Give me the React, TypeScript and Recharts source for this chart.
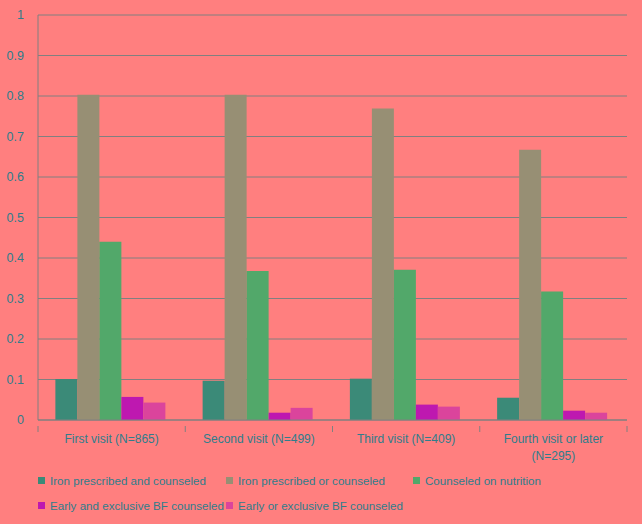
import React from 'react';
import { BarChart, Bar, XAxis, YAxis, CartesianGrid } from 'recharts';

const categories = ['First visit (N=865)', 'Second visit (N=499)', 'Third visit (N=409)', 'Fourth visit or later\n(N=295)'];
const ironAnd = [0.101, 0.097, 0.102, 0.055];
const ironOr = [0.803, 0.803, 0.769, 0.667];
const nutrition = [0.44, 0.368, 0.371, 0.317];
const bfAnd = [0.057, 0.018, 0.038, 0.023];
const bfOr = [0.043, 0.030, 0.033, 0.018];
const yTicks = [0, 0.1, 0.2, 0.3, 0.4, 0.5, 0.6, 0.7, 0.8, 0.9, 1];

const seriesNames = [
  'Iron prescribed and counseled',
  'Iron prescribed or counseled',
  'Counseled on nutrition',
  'Early and exclusive BF counseled',
  'Early or exclusive BF counseled',
];
const seriesValues = [ironAnd, ironOr, nutrition, bfAnd, bfOr];
const seriesColors = ['#3B8A78', '#978F74', '#52A86A', '#BE18B0', '#DB449C'];
const keys = ['s0', 's1', 's2', 's3', 's4'];

const data = categories.map((c, i) => {
  const row: any = { name: c };
  keys.forEach((k, j) => (row[k] = seriesValues[j][i]));
  return row;
});

const TEXT = '#2F7D8C';
const FONT = '"Liberation Sans", Arial, sans-serif';

const XTick = (props: any) => {
  const { x, y, payload, width, visibleTicksCount, index } = props;
  const half = width / visibleTicksCount / 2;
  const lines = String(payload.value).split('\n');
  return (
    <g>
      <line x1={x - half} x2={x - half} y1={y - 2} y2={y + 4} stroke="#808080" />
      {index === visibleTicksCount - 1 && (
        <line x1={x + half} x2={x + half} y1={y - 2} y2={y + 4} stroke="#808080" />
      )}
      <text x={x} y={y + 15} textAnchor="middle" fill={TEXT} fontSize={12} fontFamily={FONT}>
        {lines.map((l, i) => (
          <tspan key={i} x={x} dy={i === 0 ? 0 : 17}>{l}</tspan>
        ))}
      </text>
    </g>
  );
};

export default function App() {
  return (
    <div style={{ position: 'absolute', left: 0, top: 0, width: 642, height: 524, background: '#FF7F7F', fontFamily: FONT }}>
      <BarChart
        width={642}
        height={524}
        data={data}
        margin={{ top: 15, right: 15, left: 0, bottom: 0 }}
        barCategoryGap="11.8%"
        barGap={0}
      >
        <CartesianGrid vertical={false} stroke="#808080" strokeWidth={1} />
        <XAxis
          dataKey="name"
          height={104}
          axisLine={{ stroke: '#808080' }}
          tickLine={false}
          interval={0}
          tick={<XTick />}
        />
        <YAxis
          width={38}
          domain={[0, 1]}
          ticks={yTicks}
          axisLine={{ stroke: '#808080' }}
          tickLine={false}
          tick={{ fill: TEXT, fontSize: 12.5, fontFamily: FONT }}
          tickFormatter={(v: number) => String(v)}
          tickMargin={8}
        />
        {keys.map((k, j) => (
          <Bar key={k} dataKey={k} name={seriesNames[j]} fill={seriesColors[j]} isAnimationActive={false} />
        ))}
      </BarChart>
      <div
        style={{
          position: 'absolute',
          left: 38,
          top: 472,
          width: 600,
          display: 'grid',
          gridTemplateColumns: '188px 187px 200px',
          rowGap: 8,
        }}
      >
        {seriesNames.map((n, j) => (
          <div key={n} style={{ display: 'flex', alignItems: 'center', height: 17, fontSize: 11.6, color: TEXT, whiteSpace: 'nowrap' }}>
            <span style={{ display: 'inline-block', width: 7, height: 7, background: seriesColors[j], marginRight: 5 }} />
            {n}
          </div>
        ))}
      </div>
    </div>
  );
}
